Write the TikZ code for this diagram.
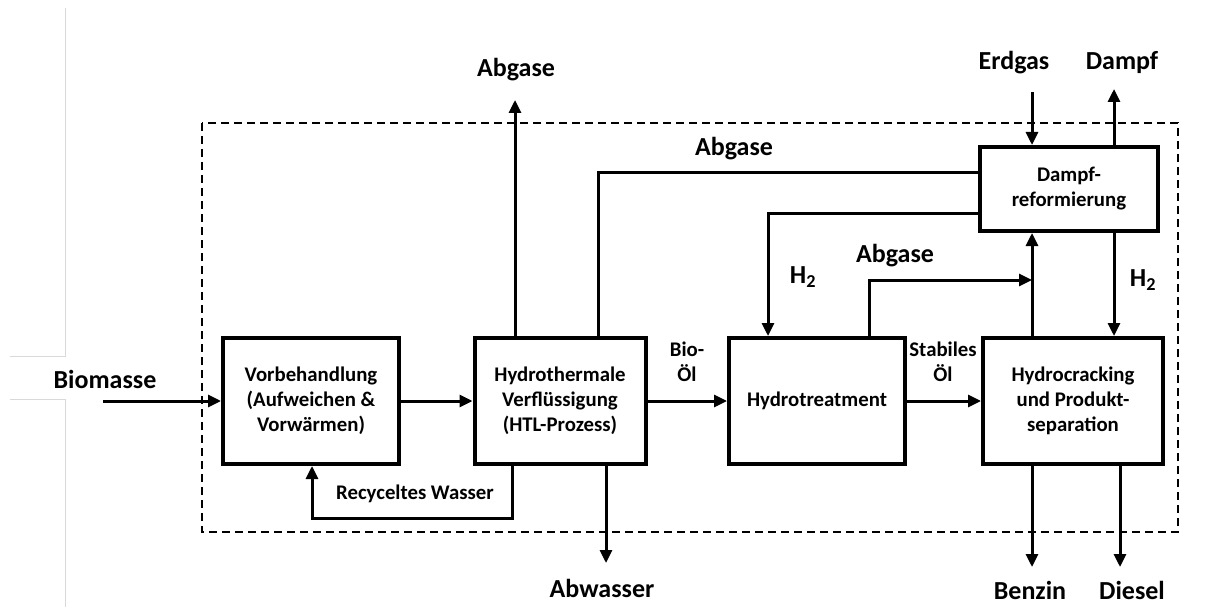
\documentclass[tikz,border=0pt]{standalone}
\usepackage{fontspec}
\setmainfont{Carlito}
\usetikzlibrary{arrows.meta,positioning,calc}

\begin{document}
\begin{tikzpicture}[
        x=1pt,
        y=-1pt,
        >={Triangle[length=13pt,width=12pt]},
        every node/.style={font=\fontsize{20.8}{25}\selectfont\bfseries, align=center, inner sep=0pt},
        unit/.style={draw, line width=4pt, minimum width=176pt, minimum height=126pt},
        stream/.style={line width=3pt},
        biglabel/.style={font=\fontsize{26}{30}\selectfont\bfseries},
        boundary/.style={line width=1.6pt, dash pattern=on 8pt off 5pt}
    ]
        \useasboundingbox (0,0) rectangle (1216,607);
        % faint edges on the left
        \draw[black!15, line width=1pt] (65,8) -- (65,356) -- (10,356);
        \draw[black!15, line width=1pt] (10,399) -- (65,399) -- (65,607);
        % plant boundary
        \draw[boundary] (202,123) rectangle (1178,532);

        % process units
        \node[unit] (vorb) at (311,401) {Vorbehandlung\\(Aufweichen \&\\Vorwärmen)};
        \node[unit, minimum width=171pt] (htl) at (560,401) {Hydrothermale\\Verflüssigung\\(HTL-Prozess)};
        \node[unit] (ht) at (817,401) {Hydrotreatment};
        \node[unit, minimum width=180pt] (hc) at (1073,401) {Hydrocracking\\und Produkt-\\separation};
        \node[unit, minimum width=178pt, minimum height=84pt] (ref) at (1069,189) {Dampf-\\reformierung};

        % stream labels
        \node[biglabel] (biomasse) at (105,379) {Biomasse};
        \node[biglabel] (abgas1) at (516,70) {Abgase};
        \node[biglabel] (abgas2) at (734,149) {Abgase};
        \node[biglabel] (abgas3) at (895,256) {Abgase};
        \node[biglabel] (h2a) at (803,277) {H\textsubscript{2}};
        \node[biglabel] (h2b) at (1143,280) {H\textsubscript{2}};
        \node[biglabel] (erdgas) at (1014,63) {Erdgas};
        \node[biglabel] (dampf) at (1122,63) {Dampf};
        \node[biglabel] (abwasser) at (602,588) {Abwasser};
        \node[biglabel] (benzin) at (1030,590) {Benzin};
        \node[biglabel] (diesel) at (1132,590) {Diesel};
        \node (biooel) at (687,362) {Bio-\\Öl};
        \node (staboel) at (943,362) {Stabiles\\Öl};
        \node (recwasser) at (415,494) {Recyceltes Wasser};

        % free ends and bends
        \coordinate (feed) at (103,401);
        \coordinate (up1) at (515,100);
        \coordinate (off2) at (598,173);
        \coordinate (hyd1) at (768,213);
        \coordinate (off3) at (869,280);
        \coordinate (gasin) at (1032,92);
        \coordinate (steam) at (1114,89);
        \coordinate (water) at (606,563);
        \coordinate (rec1) at (512,518);
        \coordinate (rec2) at (312,518);
        \coordinate (gasoline) at (1032,567);
        \coordinate (diesout) at (1120,567);

        % main line
        \draw[->, stream] (feed) -- (vorb.west |- feed);
        \draw[->, stream] (vorb) -- (htl);
        \draw[->, stream] (htl) -- (ht);
        \draw[->, stream] (ht) -- (hc);

        % gases and hydrogen
        \draw[->, stream] (htl.north -| up1) -- (up1);
        \draw[stream] (htl.north -| off2) -- (off2) -- (ref.west |- off2);
        \draw[->, stream] (ref.west |- hyd1) -- (hyd1) -- (ht.north -| hyd1);
        \draw[->, stream] (hc.north -| gasin) -- (ref.south -| gasin);
        \draw[->, stream] (ht.north -| off3) -- (off3) -- (off3 -| gasin);
        \draw[->, stream] (gasin) -- (ref.north -| gasin);
        \draw[->, stream] (ref.north -| steam) -- (steam);
        \draw[->, stream] (ref.south -| steam) -- (hc.north -| steam);

        % water and products
        \draw[->, stream] (htl.south -| water) -- (water);
        \draw[->, stream] (htl.south -| rec1) -- (rec1) -- (rec2) -- (vorb.south -| rec2);
        \draw[->, stream] (hc.south -| gasoline) -- (gasoline);
        \draw[->, stream] (hc.south -| diesout) -- (diesout);
    \end{tikzpicture}
\end{document}
